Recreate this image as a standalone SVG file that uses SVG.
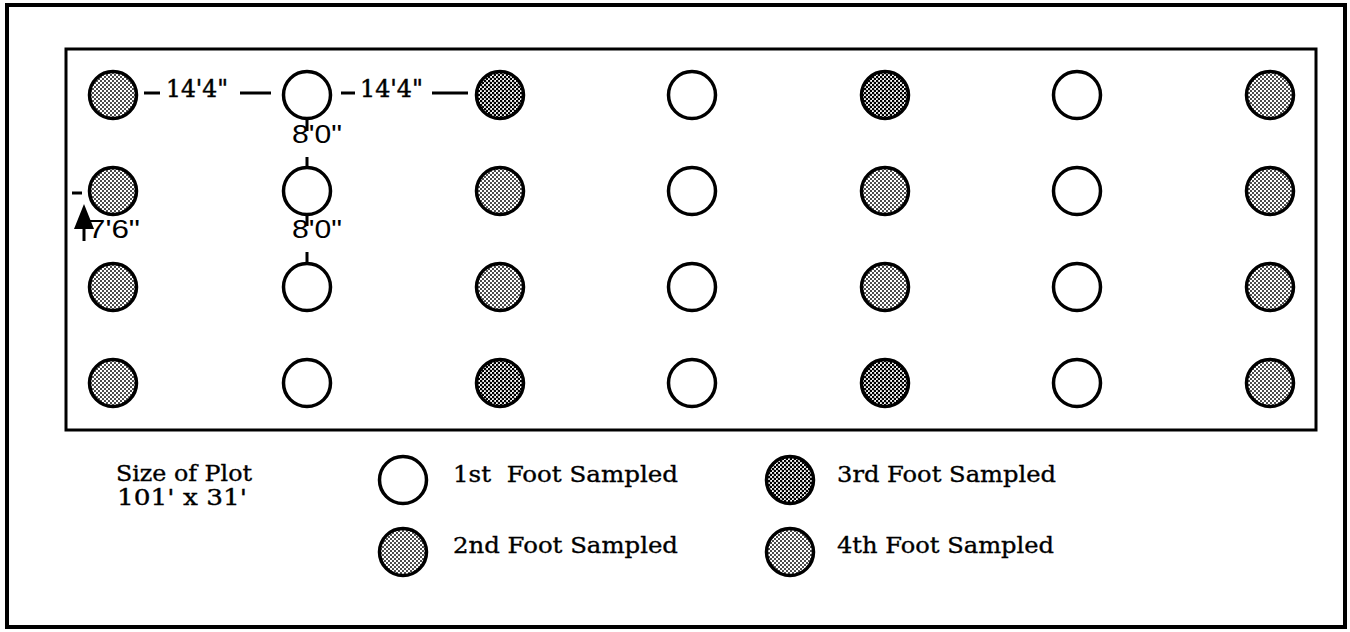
<svg xmlns="http://www.w3.org/2000/svg" width="1350" height="632" viewBox="0 0 1350 632">
<defs>
<pattern id="light" patternUnits="userSpaceOnUse" width="4" height="4">
<rect width="4" height="4" fill="#fff"/>
<circle cx="1" cy="1" r="0.95" fill="#000"/>
<circle cx="3" cy="3" r="0.95" fill="#000"/>
</pattern>
<pattern id="dark" patternUnits="userSpaceOnUse" width="4" height="4">
<rect width="4" height="4" fill="#fff"/>
<circle cx="1" cy="1" r="1.35" fill="#000"/>
<circle cx="3" cy="3" r="1.35" fill="#000"/>
</pattern>
</defs>
<style>
.c{stroke:#000;stroke-width:3.5}
.w{fill:#fff}
.l{fill:url(#light)}
.d{fill:url(#dark)}
.dim{font-family:"Liberation Sans",Arial,sans-serif;font-size:25px;fill:#000}
.dims{font-family:"DejaVu Serif","Liberation Serif",serif;font-size:24px;fill:#000;stroke:#000;stroke-width:0.5}
.leg{font-family:"DejaVu Serif","Liberation Serif",serif;font-size:22px;fill:#000;stroke:#000;stroke-width:0.35}
.ln{stroke:#000;stroke-width:3;fill:none}
</style>
<rect x="7" y="5" width="1338" height="622" fill="#fff" stroke="#000" stroke-width="4"/>
<rect id="plot" x="66" y="49" width="1250" height="381" fill="none" stroke="#000" stroke-width="3"/>
<g id="r1">
<circle id="n11" class="c l" cx="113" cy="95" r="23.5"/>
<circle id="n12" class="c w" cx="307" cy="95" r="23.5"/>
<circle id="n13" class="c d" cx="500" cy="95" r="23.5"/>
<circle id="n14" class="c w" cx="692" cy="95" r="23.5"/>
<circle id="n15" class="c d" cx="885" cy="95" r="23.5"/>
<circle id="n16" class="c w" cx="1077" cy="95" r="23.5"/>
<circle id="n17" class="c l" cx="1270" cy="95" r="23.5"/>
</g>
<g id="r2">
<circle id="n21" class="c l" cx="113" cy="191" r="23.5"/>
<circle id="n22" class="c w" cx="307" cy="191" r="23.5"/>
<circle id="n23" class="c l" cx="500" cy="191" r="23.5"/>
<circle id="n24" class="c w" cx="692" cy="191" r="23.5"/>
<circle id="n25" class="c l" cx="885" cy="191" r="23.5"/>
<circle id="n26" class="c w" cx="1077" cy="191" r="23.5"/>
<circle id="n27" class="c l" cx="1270" cy="191" r="23.5"/>
</g>
<g id="r3">
<circle id="n31" class="c l" cx="113" cy="287" r="23.5"/>
<circle id="n32" class="c w" cx="307" cy="287" r="23.5"/>
<circle id="n33" class="c l" cx="500" cy="287" r="23.5"/>
<circle id="n34" class="c w" cx="692" cy="287" r="23.5"/>
<circle id="n35" class="c l" cx="885" cy="287" r="23.5"/>
<circle id="n36" class="c w" cx="1077" cy="287" r="23.5"/>
<circle id="n37" class="c l" cx="1270" cy="287" r="23.5"/>
</g>
<g id="r4">
<circle id="n41" class="c l" cx="113" cy="383" r="23.5"/>
<circle id="n42" class="c w" cx="307" cy="383" r="23.5"/>
<circle id="n43" class="c d" cx="500" cy="383" r="23.5"/>
<circle id="n44" class="c w" cx="692" cy="383" r="23.5"/>
<circle id="n45" class="c d" cx="885" cy="383" r="23.5"/>
<circle id="n46" class="c w" cx="1077" cy="383" r="23.5"/>
<circle id="n47" class="c l" cx="1270" cy="383" r="23.5"/>
</g>
<g id="connectors">
<line class="ln" x1="144" y1="93" x2="160" y2="93"/>
<line class="ln" x1="240" y1="93" x2="271" y2="93"/>
<line class="ln" x1="341" y1="93" x2="355" y2="93"/>
<line class="ln" x1="432" y1="93" x2="468" y2="93"/>
<line class="ln" x1="307" y1="117" x2="307" y2="131"/>
<line class="ln" x1="307" y1="157" x2="307" y2="168"/>
<line class="ln" x1="307" y1="213" x2="307" y2="226"/>
<line class="ln" x1="307" y1="252" x2="307" y2="264"/>
<line class="ln" x1="72" y1="193" x2="82" y2="193"/>
<line class="ln" x1="84" y1="226" x2="84" y2="241"/>
<polygon points="84,204 74,229 94,229" fill="#000"/>
</g>
<g id="dims">
<text class="dims" x="166" y="97" textLength="62" lengthAdjust="spacingAndGlyphs">14'4"</text>
<text class="dims" x="360" y="97" textLength="63" lengthAdjust="spacingAndGlyphs">14'4"</text>
<text class="dim" x="292" y="143" textLength="50" lengthAdjust="spacingAndGlyphs">8'0"</text>
<text class="dim" x="292" y="238" textLength="50" lengthAdjust="spacingAndGlyphs">8'0"</text>
<text class="dim" x="88" y="238" textLength="52" lengthAdjust="spacingAndGlyphs">7'6"</text>
</g>
<g id="size">
<text class="leg" x="116" y="481" textLength="136" lengthAdjust="spacingAndGlyphs">Size of Plot</text>
<text class="leg" x="117" y="505" textLength="130" lengthAdjust="spacingAndGlyphs" xml:space="preserve">101' x 31'</text>
</g>
<g id="leg1">
<circle class="c w" cx="403" cy="480" r="23.5"/>
<text class="leg" x="453" y="482" textLength="225" lengthAdjust="spacingAndGlyphs" xml:space="preserve">1st  Foot Sampled</text>
</g>
<g id="leg2">
<circle class="c l" cx="403" cy="552" r="23.5"/>
<text class="leg" x="453" y="553" textLength="225" lengthAdjust="spacingAndGlyphs">2nd Foot Sampled</text>
</g>
<g id="leg3">
<circle class="c d" cx="790" cy="480" r="23.5"/>
<text class="leg" x="837" y="482" textLength="219" lengthAdjust="spacingAndGlyphs">3rd Foot Sampled</text>
</g>
<g id="leg4">
<circle class="c l" cx="790" cy="552" r="23.5"/>
<text class="leg" x="837" y="553" textLength="217" lengthAdjust="spacingAndGlyphs">4th Foot Sampled</text>
</g>
</svg>
